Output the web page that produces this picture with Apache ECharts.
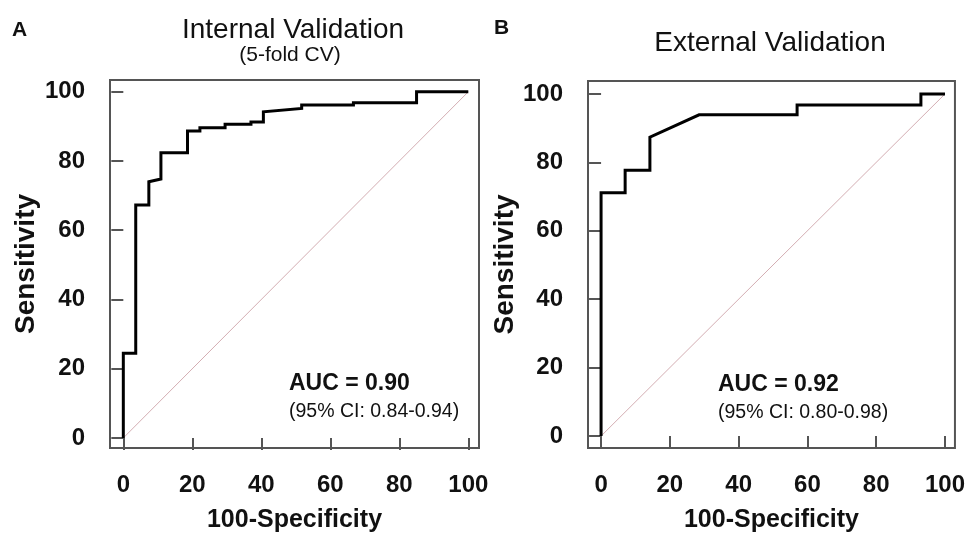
<!DOCTYPE html>
<html>
<head>
<meta charset="utf-8">
<script src="https://cdn.jsdelivr.net/npm/echarts@6/dist/echarts.min.js"></script>
<style>
html,body{margin:0;padding:0;background:#fff;}
#chart{width:968px;height:538px;}
</style>
</head>
<body>
<div id="chart"></div>
<script>
// ---- Data ----
const tickValues = [0, 20, 40, 60, 80, 100];

// Panel A: Internal Validation (5-fold CV)
const intFpr  = [0, 0, 3.6, 3.6, 7.4, 7.4, 10.9, 10.9, 18.6, 18.6, 22.2, 22.2, 29.5, 29.5, 37.0, 37.0, 40.6, 40.6, 51.7, 51.7, 66.7, 66.7, 85.0, 85.0, 100];
const intSens = [0, 24.5, 24.5, 67.3, 67.3, 74.0, 74.8, 82.4, 82.4, 88.7, 88.7, 89.6, 89.6, 90.6, 90.6, 91.3, 91.3, 94.2, 95.2, 96.2, 96.2, 96.8, 96.8, 100, 100];

// Panel B: External Validation
const extFpr  = [0, 0, 7.0, 7.0, 14.2, 14.2, 28.5, 57.0, 57.0, 93.0, 93.0, 100];
const extSens = [0, 71.1, 71.1, 77.7, 77.7, 87.4, 93.9, 93.9, 96.8, 96.8, 100, 100];

// Chance diagonal
const diagX = [0, 100];
const diagY = [0, 100];

const panelTitles = ['Internal Validation', 'External Validation'];
const panelSub = '(5-fold CV)';
const panelLetters = ['A', 'B'];
const aucText = ['AUC = 0.90', 'AUC = 0.92'];
const ciText = ['(95% CI: 0.84-0.94)', '(95% CI: 0.80-0.98)'];

// ---- Build ----
const zip = (xs, ys) => xs.map((x, i) => [x, ys[i]]);
const FONT = 'Liberation Sans, Arial, Helvetica, sans-serif';
const chart = echarts.init(document.getElementById('chart'), null, {renderer: 'canvas'});

function xAxis(idx, min, max) {
  return {
    type: 'value', gridIndex: idx, min: min, max: max,
    name: '100-Specificity', nameLocation: 'middle', nameGap: 60,
    nameTextStyle: {fontFamily: FONT, fontWeight: 'bold', fontSize: 25, color: '#111'},
    axisLine: {show: false},
    splitLine: {show: false},
    axisTick: {show: true, inside: false, length: 12, customValues: tickValues, lineStyle: {color: '#555', width: 2}},
    axisLabel: {customValues: tickValues, margin: 25, fontFamily: FONT, fontWeight: 'bold', fontSize: 24, color: '#111'}
  };
}
function yAxis(idx, min, max, gap) {
  return {
    type: 'value', gridIndex: idx, min: min, max: max,
    name: 'Sensitivity', nameLocation: 'middle', nameGap: gap, nameRotate: 90,
    nameTextStyle: {fontFamily: FONT, fontWeight: 'bold', fontSize: 28, color: '#111'},
    axisLine: {show: false},
    splitLine: {show: false},
    axisTick: {show: true, inside: false, length: 12, customValues: tickValues, lineStyle: {color: '#555', width: 2}},
    axisLabel: {customValues: tickValues, margin: 25, fontFamily: FONT, fontWeight: 'bold', fontSize: 24, color: '#111'}
  };
}

const option = {
  backgroundColor: '#fff',
  animation: false,
  grid: [
    {left: 110, top: 80, width: 369, height: 368, show: true, borderColor: '#555', borderWidth: 2, backgroundColor: 'transparent'},
    {left: 588, top: 81, width: 368, height: 371, show: true, borderColor: '#555', borderWidth: 2, backgroundColor: 'transparent'}
  ],
  xAxis: [xAxis(0, -3.86, 103.1), xAxis(1, -3.8, 102.9)],
  yAxis: [yAxis(0, -2.9, 103.4, 70), yAxis(1, -3.5, 103.8, 60)],
  series: [
    {type: 'line', xAxisIndex: 0, yAxisIndex: 0, data: zip(diagX, diagY), showSymbol: false, silent: true,
     lineStyle: {color: '#d4aeb3', width: 1}},
    {type: 'line', xAxisIndex: 0, yAxisIndex: 0, data: zip(intFpr, intSens), showSymbol: false,
     lineStyle: {color: '#000', width: 3, join: 'miter'}},
    {type: 'line', xAxisIndex: 1, yAxisIndex: 1, data: zip(diagX, diagY), showSymbol: false, silent: true,
     lineStyle: {color: '#d4aeb3', width: 1}},
    {type: 'line', xAxisIndex: 1, yAxisIndex: 1, data: zip(extFpr, extSens), showSymbol: false,
     lineStyle: {color: '#000', width: 3, join: 'miter'}}
  ],
  graphic: [
    {type: 'text', left: 12, top: 20, style: {text: panelLetters[0], font: 'bold 21px ' + FONT, fill: '#111'}},
    {type: 'text', left: 494, top: 18, style: {text: panelLetters[1], font: 'bold 21px ' + FONT, fill: '#111'}},
    {type: 'text', x: 293, y: 30, style: {text: panelTitles[0], font: '28px ' + FONT, fill: '#111', textAlign: 'center', textVerticalAlign: 'middle'}},
    {type: 'text', x: 290, y: 55, style: {text: panelSub, font: '21px ' + FONT, fill: '#111', textAlign: 'center', textVerticalAlign: 'middle'}},
    {type: 'text', x: 770, y: 43, style: {text: panelTitles[1], font: '28px ' + FONT, fill: '#111', textAlign: 'center', textVerticalAlign: 'middle'}},
    {type: 'text', x: 289, y: 384, style: {text: aucText[0], font: 'bold 23px ' + FONT, fill: '#111', textAlign: 'left', textVerticalAlign: 'middle'}},
    {type: 'text', x: 289, y: 412, style: {text: ciText[0], font: '19.5px ' + FONT, fill: '#111', textAlign: 'left', textVerticalAlign: 'middle'}},
    {type: 'text', x: 718, y: 385, style: {text: aucText[1], font: 'bold 23px ' + FONT, fill: '#111', textAlign: 'left', textVerticalAlign: 'middle'}},
    {type: 'text', x: 718, y: 413, style: {text: ciText[1], font: '19.5px ' + FONT, fill: '#111', textAlign: 'left', textVerticalAlign: 'middle'}}
  ]
};
chart.setOption(option);
</script>
</body>
</html>
